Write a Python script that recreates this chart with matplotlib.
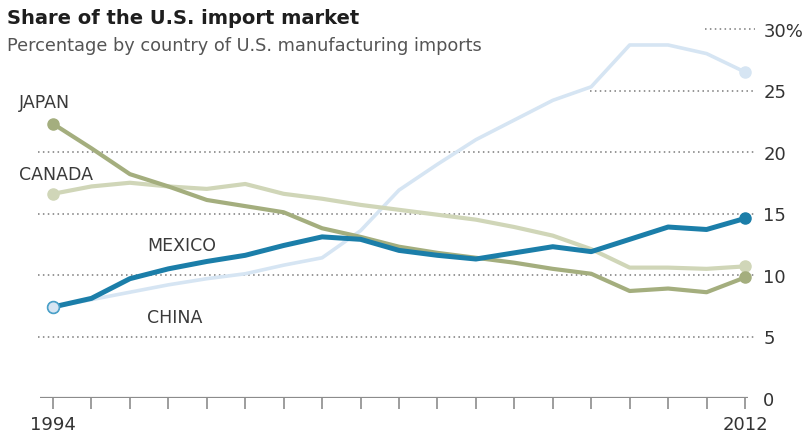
import matplotlib
matplotlib.use("Agg")
import matplotlib.pyplot as plt
import numpy as np

years = list(range(1994, 2013))
japan = [22.3, 20.3, 18.2, 17.2, 16.1, 15.6, 15.1, 13.8, 13.1, 12.3, 11.8, 11.4, 11.0, 10.5, 10.1, 8.7, 8.9, 8.6, 9.8]
canada = [16.6, 17.2, 17.5, 17.2, 17.0, 17.4, 16.6, 16.2, 15.7, 15.3, 14.9, 14.5, 13.9, 13.2, 12.1, 10.6, 10.6, 10.5, 10.7]
mexico = [7.4, 8.1, 9.7, 10.5, 11.1, 11.6, 12.4, 13.1, 12.9, 12.0, 11.6, 11.3, 11.8, 12.3, 11.9, 12.9, 13.9, 13.7, 14.6]
china = [7.4, 8.0, 8.6, 9.2, 9.7, 10.1, 10.8, 11.4, 13.6, 16.9, 19.0, 21.0, 22.6, 24.2, 25.3, 28.7, 28.7, 28.0, 26.5]

series_names = ["JAPAN", "CANADA", "MEXICO", "CHINA"]
y_ticks = [0, 5, 10, 15, 20, 25, 30]
y_tick_labels = ["0", "5", "10", "15", "20", "25", "30%"]

title = "Share of the U.S. import market"
subtitle = "Percentage by country of U.S. manufacturing imports"

FONT = "DejaVu Sans"
W, H = 804, 439
fig = plt.figure(figsize=(W / 100, H / 100), dpi=100)
fig.patch.set_facecolor("white")

# axes in pixel coordinates
L, R, B, T = 38, 755, 399, 24
ax = fig.add_axes([L / W, (H - B) / H, (R - L) / W, (B - T) / H])
px_per_year = (745 - 53) / 18
x0 = 1994 - (53 - L) / px_per_year
x1 = 2012 + (R - 745) / px_per_year
ax.set_xlim(x0, x1)
ax.set_ylim(0, (B - T) / ((399 - 30) / 30))

for s in ax.spines.values():
    s.set_visible(False)

# gridlines (dotted)
grid_color = "#7a7a7a"
grid_starts = {5: x0, 10: x0, 15: x0, 20: x0,
               25: 1994 + (590 - 53) / px_per_year,
               30: 1994 + (705 - 53) / px_per_year}
for v in y_ticks[1:]:
    ax.plot([grid_starts[v], x1], [v, v], color=grid_color, lw=1.1,
            linestyle=(0, (1, 2.2)), zorder=1, solid_capstyle="butt")

# baseline
ax.plot([1994 - (53 - 40) / px_per_year, 2012 + 3 / px_per_year], [0, 0],
        color="#8c8c8c", lw=1.6, zorder=2, solid_capstyle="butt")

# lines
colors = {"JAPAN": "#a4ae7e", "CANADA": "#d0d6b8", "MEXICO": "#1b7ea9", "CHINA": "#d6e5f3"}
widths = {"JAPAN": 3.0, "CANADA": 3.0, "MEXICO": 3.6, "CHINA": 2.6}
data = {"JAPAN": japan, "CANADA": canada, "MEXICO": mexico, "CHINA": china}
zorders = {"CHINA": 3, "CANADA": 4, "JAPAN": 5, "MEXICO": 6}
for name in ["CANADA", "JAPAN", "CHINA", "MEXICO"]:
    vals = data[name]
    ax.plot(years, vals, color=colors[name], lw=widths[name], zorder=zorders[name],
            solid_joinstyle="round", solid_capstyle="round")
    ax.plot([years[0], years[-1]], [vals[0], vals[-1]], "o", color=colors[name],
            ms=8, zorder=zorders[name] + 0.5, mec=colors[name])
# china start marker outlined in mexico color as in reference
ax.plot([years[0]], [china[0]], "o", ms=8.5, mfc="#d6e5f3", mec="#4aa0c8", mew=1.2, zorder=7)

# labels
lab_font = dict(fontsize=12.5, color="#3a3a3a", family=FONT, va="center", ha="left")
fig.text(19 / W, 1 - 103 / H, "JAPAN", **lab_font)
fig.text(19 / W, 1 - 175 / H, "CANADA", **lab_font)
fig.text(147 / W, 1 - 246 / H, "MEXICO", **lab_font)
fig.text(147 / W, 1 - 318 / H, "CHINA", **lab_font)

# x ticks
ax.set_xticks(years)
ax.set_xticklabels([str(y) if y in (1994, 2012) else "" for y in years],
                   fontsize=13, color="#333333", family=FONT)
ax.tick_params(axis="x", direction="out", length=8, width=1.2, color="#8c8c8c", pad=4)

# y ticks on right
ax.yaxis.tick_right()
ax.set_yticks(y_ticks)
ax.set_yticklabels(y_tick_labels, fontsize=13, color="#333333", family=FONT)
ax.tick_params(axis="y", length=0, pad=6)

# title
fig.text(7 / W, 1 - 19 / H, title, fontsize=14, fontweight="heavy", color="#1e1e1e",
         family=FONT, va="center", ha="left")
fig.text(7 / W, 1 - 46 / H, subtitle, fontsize=12.8, color="#555555",
         family=FONT, va="center", ha="left")

fig.savefig("out.png", dpi=100, facecolor="white")
